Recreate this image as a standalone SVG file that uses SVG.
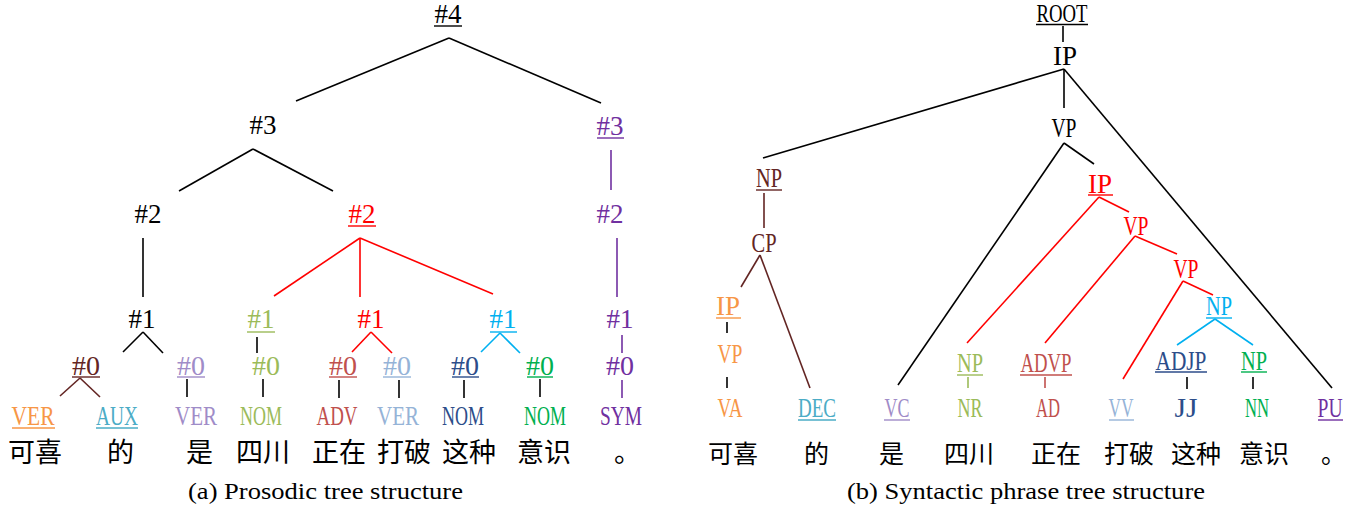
<svg xmlns="http://www.w3.org/2000/svg" width="1370" height="511" viewBox="0 0 1370 511">
  <style>
    .cm { font-family: "Liberation Serif", "Times New Roman", serif; font-size: 27px; text-anchor: middle; }
    .ss { font-family: "Liberation Serif", "Times New Roman", serif; font-size: 28px; text-anchor: middle; }
    .sr { font-family: "Liberation Serif", "Times New Roman", serif; font-size: 27px; text-anchor: middle; }
    .zh { font-family: "Noto Sans CJK SC", sans-serif; font-size: 27px; fill: #000; }
    .zr { font-family: "Noto Sans CJK SC", sans-serif; font-size: 25px; fill: #000; }
    .cap { font-family: "Liberation Serif", "Times New Roman", serif; font-size: 23px; fill: #000; }
    line { stroke-width: 1.6; fill: none; }
    .ul { stroke-width: 1.4; }
    .k { fill: #000; } .kS { stroke: #000; }
    .pu { fill: #7030a0; } .puS { stroke: #7030a0; }
    .lp { fill: #9f8cc8; } .lpS { stroke: #9f8cc8; }
    .rd { fill: #ff0000; } .rdS { stroke: #ff0000; }
    .br { fill: #632523; } .brS { stroke: #632523; }
    .or { fill: #f79646; } .orS { stroke: #f79646; }
    .aq { fill: #4bacc6; } .aqS { stroke: #4bacc6; }
    .gl { fill: #9bbb59; } .glS { stroke: #9bbb59; }
    .rb { fill: #c0504d; } .rbS { stroke: #c0504d; }
    .lb { fill: #95b3d7; } .lbS { stroke: #95b3d7; }
    .db { fill: #2c4d8a; } .dbS { stroke: #2c4d8a; }
    .cy { fill: #00b0f0; } .cyS { stroke: #00b0f0; }
    .gr { fill: #00b050; } .grS { stroke: #00b050; }
  </style>

  <!-- (a) prosodic tree: connectors -->
  <g id="prosodic-edges">
    <line class="kS" x1="449" y1="38" x2="296" y2="101"/>
    <line class="kS" x1="449" y1="38" x2="601" y2="103"/>
    <line class="kS" x1="253" y1="149" x2="179" y2="191"/>
    <line class="kS" x1="253" y1="149" x2="333" y2="191"/>
    <line class="puS" x1="611" y1="150" x2="611" y2="190"/>
    <line class="kS" x1="143" y1="238" x2="143" y2="297"/>
    <line class="rdS" x1="360" y1="238" x2="274" y2="296"/>
    <line class="rdS" x1="360" y1="238" x2="360" y2="297"/>
    <line class="rdS" x1="360" y1="238" x2="493" y2="294"/>
    <line class="puS" x1="617" y1="238" x2="617" y2="297"/>
    <line class="kS" x1="143" y1="332" x2="123" y2="352"/>
    <line class="kS" x1="143" y1="332" x2="163" y2="353"/>
    <line class="kS" x1="257" y1="337" x2="257" y2="353"/>
    <line class="rdS" x1="371" y1="332" x2="352" y2="352"/>
    <line class="rdS" x1="371" y1="332" x2="392" y2="353"/>
    <line class="cyS" x1="500" y1="333" x2="481" y2="352"/>
    <line class="cyS" x1="500" y1="333" x2="520" y2="353"/>
    <line class="puS" x1="622" y1="335" x2="622" y2="353"/>
    <line class="brS" x1="80" y1="378" x2="60" y2="396"/>
    <line class="brS" x1="80" y1="378" x2="100" y2="397"/>
    <line class="kS" x1="187" y1="379" x2="187" y2="397"/>
    <line class="kS" x1="263" y1="379" x2="263" y2="397"/>
    <line class="kS" x1="339" y1="380" x2="339" y2="398"/>
    <line class="kS" x1="399" y1="380" x2="399" y2="398"/>
    <line class="kS" x1="464" y1="380" x2="464" y2="398"/>
    <line class="kS" x1="540" y1="379" x2="540" y2="397"/>
    <line class="puS" x1="622" y1="380" x2="622" y2="398"/>
  </g>

  <!-- (a) prosodic tree: boundary nodes -->
  <g id="p4"><text class="cm k" x="448" y="23">#4</text><line class="ul kS" x1="434" y1="26" x2="462" y2="26"/></g>
  <g id="p3a"><text class="cm k" x="263" y="134">#3</text></g>
  <g id="p3b"><text class="cm pu" x="610" y="135">#3</text><line class="ul puS" x1="597" y1="138" x2="624" y2="138"/></g>
  <g id="p2a"><text class="cm k" x="148" y="223">#2</text></g>
  <g id="p2b"><text class="cm rd" x="362" y="223">#2</text><line class="ul rdS" x1="348" y1="226" x2="376" y2="226"/></g>
  <g id="p2c"><text class="cm pu" x="610" y="223">#2</text></g>
  <g id="p1a"><text class="cm k" x="142" y="328">#1</text></g>
  <g id="p1b"><text class="cm gl" x="261" y="328">#1</text><line class="ul glS" x1="247" y1="332" x2="275" y2="332"/></g>
  <g id="p1c"><text class="cm rd" x="371" y="328">#1</text></g>
  <g id="p1d"><text class="cm cy" x="503" y="328">#1</text><line class="ul cyS" x1="490" y1="332" x2="517" y2="332"/></g>
  <g id="p1e"><text class="cm pu" x="620" y="328">#1</text></g>
  <g id="p0a"><text class="ss br" x="86" y="375">#0</text><line class="ul brS" x1="72" y1="377" x2="100" y2="377"/></g>
  <g id="p0b"><text class="ss lp" x="191" y="375">#0</text><line class="ul lpS" x1="177" y1="377" x2="205" y2="377"/></g>
  <g id="p0c"><text class="ss gl" x="266" y="375">#0</text></g>
  <g id="p0d"><text class="ss rb" x="343" y="375">#0</text><line class="ul rbS" x1="329" y1="377" x2="357" y2="377"/></g>
  <g id="p0e"><text class="ss lb" x="397" y="375">#0</text><line class="ul lbS" x1="383" y1="377" x2="411" y2="377"/></g>
  <g id="p0f"><text class="ss db" x="465" y="375">#0</text><line class="ul dbS" x1="452" y1="377" x2="479" y2="377"/></g>
  <g id="p0g"><text class="ss gr" x="540" y="375">#0</text><line class="ul grS" x1="527" y1="377" x2="553" y2="377"/></g>
  <g id="p0h"><text class="ss pu" x="620" y="375">#0</text></g>

  <!-- (a) part-of-speech tags -->
  <g id="pos-a1"><text class="ss or" x="33" y="425" textLength="43" lengthAdjust="spacingAndGlyphs">VER</text><line class="ul orS" x1="12" y1="428" x2="55" y2="428"/></g>
  <g id="pos-a2"><text class="ss aq" x="117" y="425" textLength="42" lengthAdjust="spacingAndGlyphs">AUX</text><line class="ul aqS" x1="96" y1="428" x2="138" y2="428"/></g>
  <g id="pos-a3"><text class="ss lp" x="196" y="425" textLength="42" lengthAdjust="spacingAndGlyphs">VER</text></g>
  <g id="pos-a4"><text class="ss gl" x="261" y="425" textLength="42" lengthAdjust="spacingAndGlyphs">NOM</text></g>
  <g id="pos-a5"><text class="ss rb" x="337" y="425" textLength="41" lengthAdjust="spacingAndGlyphs">ADV</text></g>
  <g id="pos-a6"><text class="ss lb" x="398" y="425" textLength="42" lengthAdjust="spacingAndGlyphs">VER</text></g>
  <g id="pos-a7"><text class="ss db" x="463" y="425" textLength="42" lengthAdjust="spacingAndGlyphs">NOM</text></g>
  <g id="pos-a8"><text class="ss gr" x="545" y="425" textLength="42" lengthAdjust="spacingAndGlyphs">NOM</text></g>
  <g id="pos-a9"><text class="ss pu" x="621" y="425" textLength="42" lengthAdjust="spacingAndGlyphs">SYM</text></g>

  <!-- (a) words -->
  <g id="words-a">
    <text class="zh" x="8" y="462">可喜</text>
    <text class="zh" x="107" y="462">的</text>
    <text class="zh" x="186" y="462">是</text>
    <text class="zh" x="236" y="462">四川</text>
    <text class="zh" x="312" y="462">正在</text>
    <text class="zh" x="377" y="462">打破</text>
    <text class="zh" x="442" y="462">这种</text>
    <text class="zh" x="517" y="462">意识</text>
    <text class="zh" x="614" y="462">。</text>
  </g>

  <!-- (b) syntactic tree: connectors -->
  <g id="syntactic-edges">
    <line class="kS" x1="1063" y1="26" x2="1063" y2="42"/>
    <line class="kS" x1="1064" y1="69" x2="763" y2="158"/>
    <line class="kS" x1="1064" y1="69" x2="1064" y2="108"/>
    <line class="kS" x1="1064" y1="69" x2="1332" y2="388"/>
    <line class="kS" x1="1064" y1="143" x2="898" y2="385"/>
    <line class="kS" x1="1064" y1="143" x2="1094" y2="164"/>
    <line class="brS" x1="764" y1="193" x2="764" y2="228"/>
    <line class="brS" x1="760" y1="255" x2="741" y2="287"/>
    <line class="brS" x1="760" y1="255" x2="810" y2="388"/>
    <line class="kS" x1="727" y1="322" x2="727" y2="333"/>
    <line class="kS" x1="727" y1="377" x2="727" y2="388"/>
    <line class="rdS" x1="1099" y1="197" x2="967" y2="343"/>
    <line class="rdS" x1="1099" y1="197" x2="1129" y2="212"/>
    <line class="rdS" x1="1135" y1="236" x2="1045" y2="343"/>
    <line class="rdS" x1="1135" y1="236" x2="1177" y2="254"/>
    <line class="rdS" x1="1183" y1="281" x2="1123" y2="379"/>
    <line class="rdS" x1="1183" y1="281" x2="1213" y2="295"/>
    <line class="cyS" x1="1215" y1="319" x2="1177" y2="345"/>
    <line class="cyS" x1="1215" y1="319" x2="1253" y2="345"/>
    <line class="glS" x1="968" y1="377" x2="968" y2="388"/>
    <line class="rbS" x1="1045" y1="377" x2="1045" y2="388"/>
    <line class="kS" x1="1187" y1="377" x2="1187" y2="389"/>
    <line class="kS" x1="1253" y1="377" x2="1253" y2="389"/>
  </g>

  <!-- (b) phrase nodes -->
  <g id="s-root"><text class="sr k" x="1062" y="22" style="font-size:25px" textLength="51" lengthAdjust="spacingAndGlyphs">ROOT</text><line class="ul kS" x1="1036" y1="24.5" x2="1088" y2="24.5"/></g>
  <g id="s-ip"><text class="sr k" x="1065" y="65" textLength="24" lengthAdjust="spacingAndGlyphs">IP</text></g>
  <g id="s-vp"><text class="sr k" x="1064" y="137" textLength="25" lengthAdjust="spacingAndGlyphs">VP</text></g>
  <g id="s-np1"><text class="sr br" x="769" y="187" textLength="26" lengthAdjust="spacingAndGlyphs">NP</text><line class="ul brS" x1="756" y1="190" x2="782" y2="190"/></g>
  <g id="s-cp"><text class="sr br" x="764" y="252" textLength="25" lengthAdjust="spacingAndGlyphs">CP</text></g>
  <g id="s-ip2"><text class="sr or" x="728" y="315" textLength="24" lengthAdjust="spacingAndGlyphs">IP</text><line class="ul orS" x1="716" y1="318" x2="741" y2="318"/></g>
  <g id="s-vp2"><text class="sr or" x="730" y="363" textLength="25" lengthAdjust="spacingAndGlyphs">VP</text></g>
  <g id="s-ip3"><text class="sr rd" x="1100" y="193" textLength="24" lengthAdjust="spacingAndGlyphs">IP</text><line class="ul rdS" x1="1088" y1="195" x2="1113" y2="195"/></g>
  <g id="s-vp3"><text class="sr rd" x="1136" y="235" textLength="25" lengthAdjust="spacingAndGlyphs">VP</text></g>
  <g id="s-vp4"><text class="sr rd" x="1186" y="278" textLength="25" lengthAdjust="spacingAndGlyphs">VP</text></g>
  <g id="s-np2"><text class="sr cy" x="1219" y="315" textLength="26" lengthAdjust="spacingAndGlyphs">NP</text><line class="ul cyS" x1="1206" y1="318" x2="1232" y2="318"/></g>
  <g id="s-np3"><text class="sr gl" x="970" y="372" textLength="26" lengthAdjust="spacingAndGlyphs">NP</text><line class="ul glS" x1="957" y1="375" x2="983" y2="375"/></g>
  <g id="s-advp"><text class="sr rb" x="1046" y="372" textLength="51" lengthAdjust="spacingAndGlyphs">ADVP</text><line class="ul rbS" x1="1020" y1="375" x2="1072" y2="375"/></g>
  <g id="s-adjp"><text class="sr db" x="1181" y="370" textLength="51" lengthAdjust="spacingAndGlyphs">ADJP</text><line class="ul dbS" x1="1155" y1="372" x2="1207" y2="372"/></g>
  <g id="s-np4"><text class="sr gr" x="1254" y="370" textLength="26" lengthAdjust="spacingAndGlyphs">NP</text><line class="ul grS" x1="1241" y1="372" x2="1267" y2="372"/></g>

  <!-- (b) part-of-speech tags -->
  <g id="pos-b1"><text class="sr or" x="730" y="417" textLength="25" lengthAdjust="spacingAndGlyphs">VA</text></g>
  <g id="pos-b2"><text class="sr aq" x="817" y="417" textLength="38" lengthAdjust="spacingAndGlyphs">DEC</text><line class="ul aqS" x1="798" y1="420" x2="836" y2="420"/></g>
  <g id="pos-b3"><text class="sr lp" x="897" y="417" textLength="25" lengthAdjust="spacingAndGlyphs">VC</text><line class="ul lpS" x1="884" y1="420" x2="910" y2="420"/></g>
  <g id="pos-b4"><text class="sr gl" x="970" y="417" textLength="25" lengthAdjust="spacingAndGlyphs">NR</text></g>
  <g id="pos-b5"><text class="sr rb" x="1048" y="417" textLength="24" lengthAdjust="spacingAndGlyphs">AD</text></g>
  <g id="pos-b6"><text class="sr lb" x="1121" y="417" textLength="25" lengthAdjust="spacingAndGlyphs">VV</text><line class="ul lbS" x1="1109" y1="420" x2="1134" y2="420"/></g>
  <g id="pos-b7"><text class="sr db" x="1186" y="417" textLength="23" lengthAdjust="spacingAndGlyphs">JJ</text></g>
  <g id="pos-b8"><text class="sr gr" x="1257" y="417" textLength="24" lengthAdjust="spacingAndGlyphs">NN</text></g>
  <g id="pos-b9"><text class="sr pu" x="1330" y="417" textLength="25" lengthAdjust="spacingAndGlyphs">PU</text><line class="ul puS" x1="1318" y1="420" x2="1343" y2="420"/></g>

  <!-- (b) words -->
  <g id="words-b">
    <text class="zr" x="708" y="463">可喜</text>
    <text class="zr" x="804" y="463">的</text>
    <text class="zr" x="879" y="463">是</text>
    <text class="zr" x="944" y="463">四川</text>
    <text class="zr" x="1031" y="463">正在</text>
    <text class="zr" x="1104" y="463">打破</text>
    <text class="zr" x="1171" y="463">这种</text>
    <text class="zr" x="1239" y="463">意识</text>
    <text class="zr" x="1321" y="463">。</text>
  </g>

  <!-- captions -->
  <g id="captions">
    <text class="cap" x="188" y="499" textLength="275" lengthAdjust="spacingAndGlyphs">(a) Prosodic tree structure</text>
    <text class="cap" x="847" y="499" textLength="358" lengthAdjust="spacingAndGlyphs">(b) Syntactic phrase tree structure</text>
  </g>
</svg>
